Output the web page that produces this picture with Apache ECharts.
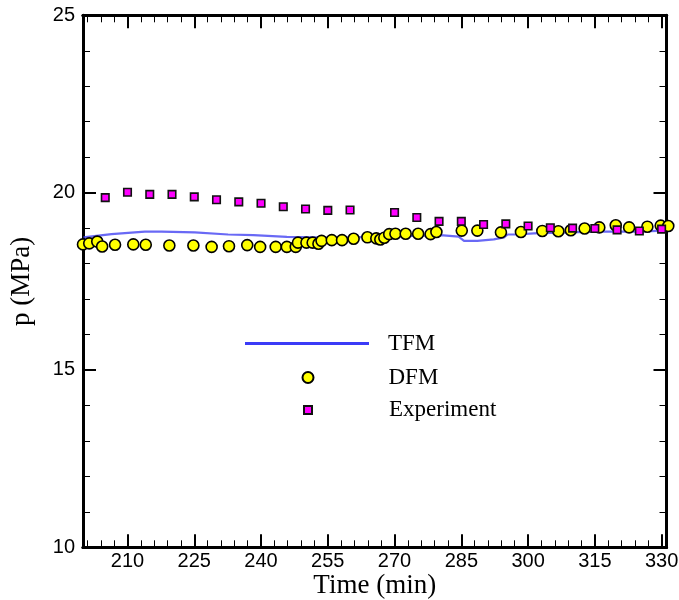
<!DOCTYPE html>
<html>
<head>
<meta charset="utf-8">
<script src="https://cdn.jsdelivr.net/npm/echarts@6/dist/echarts.min.js"></script>
<style>html,body{margin:0;padding:0;background:#fff}#c{width:679px;height:600px}</style>
</head>
<body>
<div id="c"></div>
<script>
// ---- data ----
var xMajorTicks = [210, 225, 240, 255, 270, 285, 300, 315, 330];
var xMinorTicks = [201, 204, 207, 210, 213, 216, 219, 222, 225, 228, 231, 234, 237, 240, 243, 246, 249, 252, 255, 258, 261, 264, 267, 270, 273, 276, 279, 282, 285, 288, 291, 294, 297, 300, 303, 306, 309, 312, 315, 318, 321, 324, 327, 330];
var yTicks = [10, 15, 20, 25];

var tfmTime = [200.1, 206.4, 213.9, 217.6, 225.1, 232.6, 238.3, 245.8, 255.6, 266.8, 280.3, 284.4, 284.8, 285.6, 288.6, 292.3, 294.6, 295.4, 297.6, 301.3, 308.8, 316.3, 323.8, 331.1];
var tfmP = [18.74, 18.83, 18.90, 18.90, 18.88, 18.82, 18.80, 18.75, 18.73, 18.75, 18.80, 18.76, 18.71, 18.64, 18.64, 18.68, 18.74, 18.82, 18.82, 18.85, 18.88, 18.90, 18.90, 18.93];

var dfmTime = [200.0, 201.4, 203.2, 204.3, 207.2, 211.3, 214.1, 219.4, 224.8, 228.9, 232.8, 236.9, 239.8, 243.3, 245.8, 247.8, 248.3, 250.2, 251.6, 252.9, 253.6, 255.9, 258.2, 260.8, 263.9, 265.9, 266.8, 267.7, 268.8, 270.2, 272.5, 275.3, 278.1, 279.4, 285.1, 288.6, 293.9, 298.4, 303.2, 306.8, 309.6, 312.7, 316.0, 319.7, 322.7, 326.8, 329.8, 331.5];
var dfmP = [18.54, 18.57, 18.62, 18.48, 18.53, 18.54, 18.53, 18.51, 18.51, 18.47, 18.49, 18.52, 18.47, 18.47, 18.47, 18.47, 18.59, 18.59, 18.59, 18.56, 18.64, 18.66, 18.66, 18.70, 18.74, 18.71, 18.68, 18.73, 18.83, 18.84, 18.84, 18.84, 18.83, 18.89, 18.93, 18.93, 18.88, 18.89, 18.92, 18.91, 18.94, 18.99, 19.02, 19.08, 19.02, 19.04, 19.07, 19.06];

var expTime = [205, 210, 215, 220, 225, 230, 235, 240, 245, 250, 255, 260, 270, 275, 280, 285, 290, 295, 300, 305, 310, 315, 320, 325, 330];
var expP = [19.86, 20.01, 19.95, 19.95, 19.88, 19.80, 19.74, 19.70, 19.60, 19.54, 19.50, 19.51, 19.44, 19.30, 19.19, 19.19, 19.10, 19.12, 19.06, 19.01, 19.00, 18.99, 18.95, 18.92, 18.97];

function zip(a, b) { return a.map(function (v, i) { return [v, b[i]]; }); }

var X_MIN = 200, X_MAX = 331.1;
var sans = 'Liberation Sans, Arial, sans-serif';
var serif = 'Liberation Serif, Times New Roman, serif';

function xAx(pos, ticks, len, w, withLabels, extra) {
  var a = {
    type: 'value', position: pos, min: X_MIN, max: X_MAX, gridIndex: 0,
    axisLine: { show: true, onZero: false, lineStyle: { color: '#000', width: 3 } },
    axisTick: { show: true, inside: true, length: len, customValues: ticks, lineStyle: { color: '#000', width: w } },
    axisLabel: { show: withLabels, customValues: xMajorTicks, color: '#000', fontFamily: sans, fontSize: 20, margin: 4 },
    splitLine: { show: false }, minorTick: { show: false }
  };
  if (extra) { for (var k in extra) a[k] = extra[k]; }
  return a;
}
function yAx(pos, withLabels, extra) {
  var a = {
    type: 'value', position: pos, min: 10, max: 25, interval: 5, gridIndex: 0,
    axisLine: { show: true, onZero: false, lineStyle: { color: '#000', width: 3 } },
    axisTick: { show: true, inside: true, length: 13, lineStyle: { color: '#000', width: 2 } },
    minorTick: { show: true, splitNumber: 5, length: 7, lineStyle: { color: '#000', width: 1 } },
    axisLabel: { show: withLabels, color: '#000', fontFamily: sans, fontSize: 20, margin: 8 },
    splitLine: { show: false }
  };
  if (extra) { for (var k in extra) a[k] = extra[k]; }
  return a;
}

var legendText = { color: '#000', fontFamily: serif, fontSize: 23 };

var chart = echarts.init(document.getElementById('c'), null, { renderer: 'canvas' });
chart.setOption({
  animation: false,
  backgroundColor: '#fff',
  grid: { left: 83, right: 12.5, top: 15.3, bottom: 52.7, containLabel: false, outerBoundsMode: 'none' },
  xAxis: [
    xAx('bottom', xMajorTicks, 13, 2, true, {
      name: 'Time (min)', nameLocation: 'middle', nameGap: 25, nameMoveOverlap: false,
      nameTextStyle: { color: '#000', fontFamily: serif, fontSize: 27 }
    }),
    xAx('bottom', xMinorTicks, 7, 1, false),
    xAx('top', xMajorTicks, 13, 2, false),
    xAx('top', xMinorTicks, 7, 1, false)
  ],
  yAxis: [
    yAx('left', true, {
      name: 'p (MPa)', nameLocation: 'middle', nameGap: 48, nameRotate: 90, nameMoveOverlap: false,
      nameTextStyle: { color: '#000', fontFamily: serif, fontSize: 27 }
    }),
    yAx('right', false)
  ],
  legend: [
    { data: ['TFM'], orient: 'vertical', left: 245, top: 332, padding: 0, itemWidth: 124, itemHeight: 3, icon: 'rect',
      itemStyle: { color: '#3b3bf7', borderWidth: 0 },
      textStyle: Object.assign({ padding: [0, 0, 0, 14] }, legendText), selectedMode: false },
    { data: ['DFM'], orient: 'vertical', left: 301.5, top: 366, padding: 0, itemWidth: 11, itemHeight: 11, icon: 'circle',
      textStyle: Object.assign({ padding: [0, 0, 0, 70] }, legendText), selectedMode: false },
    { data: ['Experiment'], orient: 'vertical', left: 303, top: 398.5, padding: 0, itemWidth: 8, itemHeight: 8, icon: 'rect',
      textStyle: Object.assign({ padding: [0, 0, 0, 72] }, legendText), selectedMode: false }
  ],
  series: [
    { name: 'TFM', type: 'line', xAxisIndex: 0, yAxisIndex: 0, data: zip(tfmTime, tfmP),
      showSymbol: false, symbol: 'none', color: '#4444f2',
      lineStyle: { color: '#4444f2', width: 2.2, opacity: 0.8 }, z: 2 },
    { name: 'DFM', type: 'scatter', xAxisIndex: 0, yAxisIndex: 0, data: zip(dfmTime, dfmP),
      symbol: 'circle', symbolSize: 11, clip: false,
      itemStyle: { color: '#ffff00', borderColor: '#000', borderWidth: 1.6, opacity: 1 }, z: 3 },
    { name: 'Experiment', type: 'scatter', xAxisIndex: 0, yAxisIndex: 0, data: zip(expTime, expP),
      symbol: 'rect', symbolSize: 7.5, clip: false,
      itemStyle: { color: '#ff00ff', borderColor: '#111', borderWidth: 1.6, opacity: 1 }, z: 4 }
  ]
});
</script>
</body>
</html>
